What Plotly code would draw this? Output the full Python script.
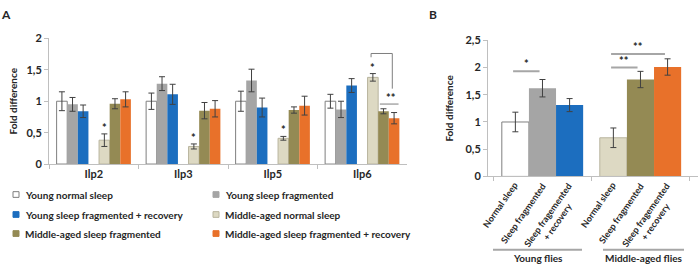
import plotly.graph_objects as go

# ---------------- Panel A data ----------------
genes = ["Ilp2", "Ilp3", "Ilp5", "Ilp6"]
series_names = [
    "Young normal sleep",
    "Young sleep fragmented",
    "Young sleep fragmented + recovery",
    "Middle-aged normal sleep",
    "Middle-aged sleep fragmented",
    "Middle-aged sleep fragmented + recovery",
]
young_normal = [1.00, 1.00, 1.00, 1.00]
young_frag = [0.95, 1.28, 1.33, 0.87]
young_frag_rec = [0.84, 1.11, 0.90, 1.25]
mid_normal = [0.38, 0.28, 0.41, 1.38]
mid_frag = [0.96, 0.85, 0.86, 0.84]
mid_frag_rec = [1.03, 0.88, 0.93, 0.73]

err_young_normal = [0.15, 0.13, 0.16, 0.11]
err_young_frag = [0.11, 0.11, 0.18, 0.13]
err_young_frag_rec = [0.10, 0.16, 0.15, 0.11]
err_mid_normal = [0.10, 0.04, 0.03, 0.06]
err_mid_frag = [0.08, 0.13, 0.05, 0.04]
err_mid_frag_rec = [0.12, 0.13, 0.15, 0.09]

# ---------------- Panel B data ----------------
groups_b = ["Young flies", "Middle-aged flies"]
bar_labels_b = ["Normal sleep", "Sleep fragmented", "Sleep fragemented<br>+ recovery"]
b_normal = [1.00, 0.71]
b_frag = [1.62, 1.78]
b_frag_rec = [1.31, 2.01]
err_b_normal = [0.18, 0.18]
err_b_frag = [0.16, 0.15]
err_b_frag_rec = [0.12, 0.15]

# ---------------- styles ----------------
WHITE = "#FFFFFF"
GRAY = "#A5A5A5"
BLUE = "#1C6EBF"
BEIGE = "#DDD9C3"
OLIVE = "#948A54"
ORANGE = "#E8712A"
FONT = "Lato"
TXT = "#262626"
AXC = "#BFBFBF"
ERRC = "#404040"

colors_a = [WHITE, GRAY, BLUE, BEIGE, OLIVE, ORANGE]
lines_a = ["#7F7F7F", GRAY, BLUE, "#B8B49E", OLIVE, ORANGE]
line_w_a = [1, 0, 0, 1, 0, 0]
vals_a = [young_normal, young_frag, young_frag_rec, mid_normal, mid_frag, mid_frag_rec]
errs_a = [err_young_normal, err_young_frag, err_young_frag_rec,
          err_mid_normal, err_mid_frag, err_mid_frag_rec]

fig = go.Figure()

def add_a(i):
    fig.add_trace(go.Bar(
        x=genes, y=vals_a[i], name=series_names[i], showlegend=False,
        marker=dict(color=colors_a[i], line=dict(color=lines_a[i], width=line_w_a[i])),
        error_y=dict(type="data", array=errs_a[i], color=ERRC, thickness=1, width=3),
        xaxis="x", yaxis="y",
    ))

for i in range(3):
    add_a(i)
# empty slot between young and middle-aged groups
fig.add_trace(go.Bar(x=genes, y=[0, 0, 0, 0], showlegend=False, hoverinfo="skip",
                     marker=dict(color="rgba(0,0,0,0)", line=dict(width=0)),
                     xaxis="x", yaxis="y"))
for i in range(3, 6):
    add_a(i)

# Panel B traces
b_sets = [(b_normal, err_b_normal, [WHITE, BEIGE], ["#7F7F7F", "#B8B49E"], [1, 1]),
          (b_frag, err_b_frag, [GRAY, OLIVE], [GRAY, OLIVE], [0, 0]),
          (b_frag_rec, err_b_frag_rec, [BLUE, ORANGE], [BLUE, ORANGE], [0, 0])]
for k, (v, e, c, lc, lw) in enumerate(b_sets):
    fig.add_trace(go.Bar(
        x=groups_b, y=v, showlegend=False, name=bar_labels_b[k].replace("<br>", " "),
        marker=dict(color=c, line=dict(color=lc, width=lw)),
        error_y=dict(type="data", array=e, color=ERRC, thickness=1, width=3),
        xaxis="x2", yaxis="y2", offsetgroup=str(k),
    ))

W, H = 700, 270
def px(x):
    return x / W
def py(y):
    return 1 - y / H

axis_common = dict(showline=True, linecolor=AXC, linewidth=1, showgrid=False,
                   zeroline=False, ticks="outside", tickcolor=AXC, ticklen=4,
                   tickfont=dict(family=FONT, size=11, color=TXT, weight="bold"))
title_font = dict(family=FONT, size=10, color=TXT, weight="bold")

fig.update_layout(
    width=W, height=H, margin=dict(l=0, r=0, t=0, b=0),
    paper_bgcolor="white", plot_bgcolor="white",
    separators=",.", showlegend=False,
    barmode="group", bargap=0.17, bargroupgap=0,
    xaxis=dict(domain=[px(49), px(407)], anchor="y", range=[-0.5, 3.5],
               tickson="boundaries", **axis_common),
    yaxis=dict(domain=[py(165), py(33)], anchor="x", range=[0, 2], dtick=0.5,
               title=dict(text="Fold difference", standoff=6, font=title_font),
               **axis_common),
    xaxis2=dict(domain=[px(488), px(698)], anchor="y2", range=[-0.556, 1.587],
                showticklabels=False, tickson="boundaries", **axis_common),
    yaxis2=dict(domain=[py(178), py(35)], anchor="x2", range=[0, 2.5], dtick=0.5,
                title=dict(text="Fold difference", standoff=9, font=title_font),
                **axis_common),
)

# slot geometry of panel A grouped bars (7 slots incl. the spacer)
slot_w = (1 - 0.17) / 7
def slot_off(s):
    return -(1 - 0.17) / 2 + (s + 0.5) * slot_w

annotations = []
shapes = []
star_font = dict(family=FONT, size=11, color=TXT, weight="bold")
# stars above middle-aged normal sleep bars
for gi in range(len(genes)):
    annotations.append(dict(x=gi + slot_off(4), y=mid_normal[gi] + err_mid_normal[gi],
                            xref="x", yref="y", text="*", showarrow=False,
                            yanchor="bottom", yshift=-2, font=star_font))
# Ilp6 bracket
g6 = 3
top = 1.76
bl = g6 + slot_off(4) - 0.02
br = g6 + slot_off(6) - 0.02
shapes += [
    dict(type="line", xref="x", yref="y", x0=bl, x1=br, y0=top, y1=top,
         line=dict(color="#7F7F7F", width=1)),
    dict(type="line", xref="x", yref="y", x0=bl, x1=bl, y0=top, y1=top - 0.06,
         line=dict(color="#7F7F7F", width=1)),
    dict(type="line", xref="x", yref="y", x0=br, x1=br, y0=top, y1=1.20,
         line=dict(color="#7F7F7F", width=1)),
    dict(type="line", xref="x", yref="y", x0=g6 + slot_off(5) - 0.04, x1=g6 + slot_off(6) + 0.05,
         y0=0.955, y1=0.955, line=dict(color="#7F7F7F", width=1)),
]
annotations.append(dict(x=g6 + (slot_off(5) + slot_off(6)) / 2 + 0.02, y=0.955, xref="x", yref="y",
                        text="**", showarrow=False, yanchor="bottom", yshift=-2, font=star_font))

# Panel B significance lines
bw = 0.255
sig = [(0, -0.30, -0.03, 1.93, "*"), (1, -0.30, -0.03, 2.00, "**"), (1, -0.30, 0.25, 2.25, "**")]
for g, a0, a1, yy, t in sig:
    shapes.append(dict(type="line", xref="x2", yref="y2", x0=g + a0, x1=g + a1, y0=yy, y1=yy,
                       line=dict(color="#A6A6A6", width=2)))
    annotations.append(dict(x=g + (a0 + a1) / 2, y=yy, xref="x2", yref="y2", text=t,
                            showarrow=False, yanchor="bottom", yshift=-1, font=star_font))

# Panel B rotated bar labels (centre of each rotated label relative to its bar)
label_shift = [(-17, -28.5), (-19.5, -37), (-15, -42)]
for g in range(len(groups_b)):
    for k, lab in enumerate(bar_labels_b):
        dx, dy = label_shift[k]
        annotations.append(dict(x=g + (k - 1) * bw, y=0, xref="x2", yref="y2", text=lab,
                                showarrow=False, textangle=-55, xanchor="center", yanchor="middle",
                                xshift=dx, yshift=dy,
                                font=dict(family=FONT, size=9, color=TXT, weight="bold")))

# group underlines and labels
for (x0, x1), lab in zip([(493, 582), (603, 684)], groups_b):
    shapes.append(dict(type="line", xref="paper", yref="paper", x0=px(x0), x1=px(x1),
                       y0=py(255), y1=py(255), line=dict(color="#A6A6A6", width=2)))
    annotations.append(dict(x=px((x0 + x1) / 2), y=py(264), xref="paper", yref="paper",
                            text=lab, showarrow=False, xanchor="center", yanchor="middle",
                            font=dict(family=FONT, size=10, color=TXT, weight="bold")))

# legend for panel A (two columns, three rows)
leg_cols = [13, 213]
leg_rows = [197, 218, 238]
for i, name in enumerate(series_names):
    cx = leg_cols[i % 2]
    cy = leg_rows[i // 2]
    shapes.append(dict(type="rect", xref="paper", yref="paper",
                       x0=px(cx), x1=px(cx + 6), y0=py(cy + 3), y1=py(cy - 3),
                       fillcolor=colors_a[i],
                       line=dict(color=lines_a[i] if line_w_a[i] else colors_a[i], width=1)))
    annotations.append(dict(x=px(cx + 9.5), y=py(cy), xref="paper", yref="paper", text=name,
                            showarrow=False, xanchor="left", yanchor="middle",
                            font=dict(family=FONT, size=10, color=TXT, weight="bold")))

# panel letters
annotations.append(dict(x=px(6), y=py(8), xref="paper", yref="paper", text="A", showarrow=False,
                        xanchor="center", yanchor="middle",
                        font=dict(family=FONT, size=12, color=TXT, weight="bold")))
annotations.append(dict(x=px(433), y=py(8), xref="paper", yref="paper", text="B", showarrow=False,
                        xanchor="center", yanchor="middle",
                        font=dict(family=FONT, size=12, color=TXT, weight="bold")))

fig.update_layout(annotations=annotations, shapes=shapes)
fig.write_html("out.html", post_script="document.body.style.margin='0';",
               config=dict(displayModeBar=False))
